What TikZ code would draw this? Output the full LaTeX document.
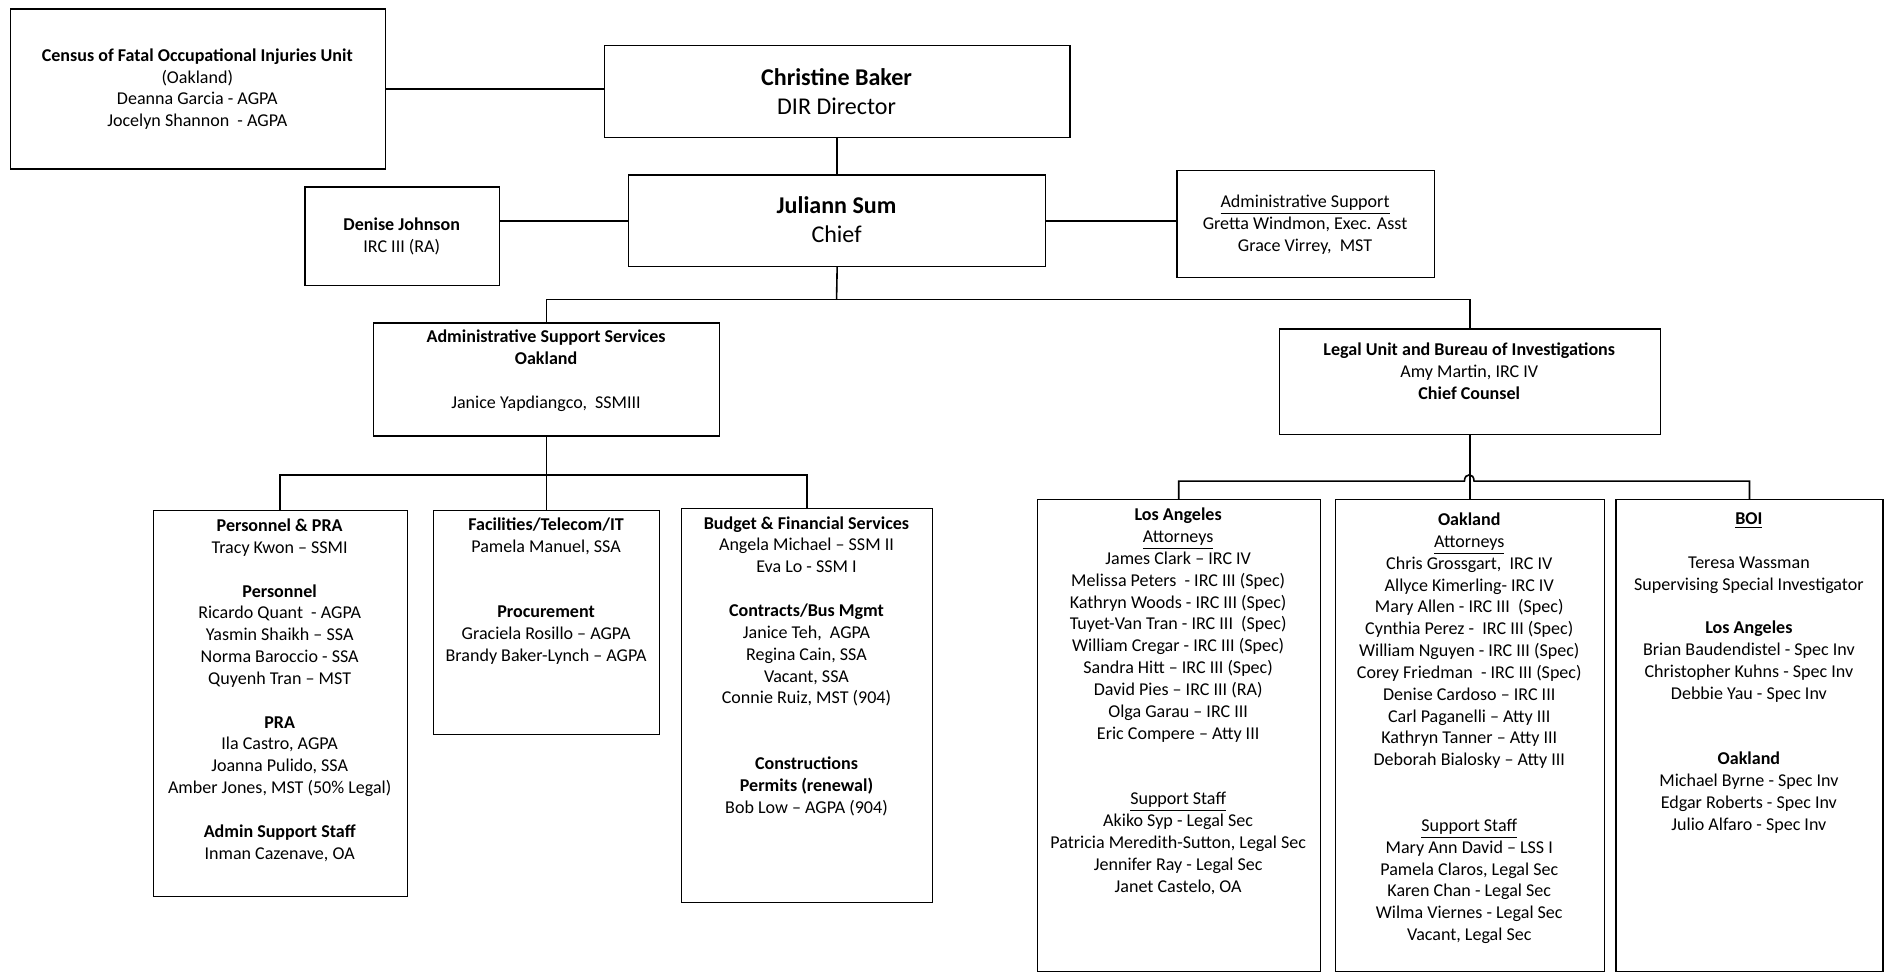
\documentclass[tikz,border=0pt]{standalone}
\usepackage{fontspec}
\setmainfont{Carlito}
\begin{document}
\begin{tikzpicture}[x=0.6pt,y=-0.6pt,
  box/.style={draw,line width=0.6pt,inner sep=0pt,anchor=north west},
  txt/.style={anchor=north,align=center,inner sep=0pt,font=\fontsize{9}{10.9}\selectfont},
  big/.style={anchor=north,align=center,inner sep=0pt,font=\fontsize{12}{14.4}\selectfont},
  conn/.style={line width=0.8pt}]

\useasboundingbox (0,0) rectangle (1568,809);

\node[box,minimum width=312*0.6pt,minimum height=133*0.6pt] (census) at (8,7) {};
\node[box,minimum width=387*0.6pt,minimum height=77*0.6pt] (christine) at (502,37) {};
\node[box,minimum width=347*0.6pt,minimum height=76*0.6pt] (juliann) at (522,145) {};
\node[box,minimum width=162*0.6pt,minimum height=82*0.6pt] (denise) at (253,155) {};
\node[box,minimum width=214*0.6pt,minimum height=89*0.6pt] (admsup) at (978,141) {};
\node[box,minimum width=288*0.6pt,minimum height=94*0.6pt] (ass) at (310,268) {};
\node[box,minimum width=317*0.6pt,minimum height=88*0.6pt] (legal) at (1063,273) {};
\node[box,minimum width=211*0.6pt,minimum height=321*0.6pt] (pers) at (127,424) {};
\node[box,minimum width=188*0.6pt,minimum height=186*0.6pt] (fac) at (360,424) {};
\node[box,minimum width=209*0.6pt,minimum height=328*0.6pt] (budget) at (566,422) {};
\node[box,minimum width=235*0.6pt,minimum height=392*0.6pt] (la) at (862,415) {};
\node[box,minimum width=224*0.6pt,minimum height=392*0.6pt] (oak) at (1109.5,415) {};
\node[box,minimum width=222*0.6pt,minimum height=392*0.6pt] (boi) at (1343,415) {};

\node[txt] (censusT) at (164,40) {\textbf{Census of Fatal Occupational Injuries Unit}\\(Oakland)\\Deanna Garcia - AGPA\\Jocelyn Shannon\ \ - AGPA};
\node[big] (christineT) at (695.5,56.5) {\textbf{Christine Baker}\\DIR Director};
\node[big] (juliannT) at (695.5,163.5) {\textbf{Juliann Sum}\\Chief};
\node[txt] (deniseT) at (334,181) {\textbf{Denise Johnson}\\IRC III (RA)};
\node[txt] (admsupT) at (1085,162) {\underline{Administrative Support}\\Gretta Windmon, Exec. Asst\\Grace Virrey,\ \ MST};
\node[txt] (assT) at (454,274) {\textbf{Administrative Support Services}\\\textbf{Oakland}\\[10.9pt]Janice Yapdiangco,\ \ SSMIII};
\node[txt] (legalT) at (1221.5,285) {\textbf{Legal Unit and Bureau of Investigations}\\Amy Martin, IRC IV\\\textbf{Chief Counsel}};

\node[txt] (persT) at (232.5,431) {\textbf{Personnel \& PRA}\\Tracy Kwon – SSMI\\[10.9pt]
  \textbf{Personnel}\\Ricardo Quant\ \ - AGPA\\Yasmin Shaikh – SSA\\Norma Baroccio - SSA\\Quyenh Tran – MST\\[10.9pt]
  \textbf{PRA}\\Ila Castro, AGPA\\Joanna Pulido, SSA\\Amber Jones, MST (50\% Legal)\\[10.9pt]
  \textbf{Admin Support Staff}\\Inman Cazenave, OA};
\node[txt] (facT) at (454,430) {\textbf{Facilities/Telecom/IT}\\Pamela Manuel, SSA\\[21.8pt]
  \textbf{Procurement}\\Graciela Rosillo – AGPA\\Brandy Baker-Lynch – AGPA};
\node[txt] (budgetT) at (670.5,429) {\textbf{Budget \& Financial Services}\\Angela Michael – SSM II\\Eva Lo - SSM I\\[10.9pt]
  \textbf{Contracts/Bus Mgmt}\\Janice Teh,\ \ AGPA\\Regina Cain, SSA\\Vacant, SSA\\Connie Ruiz, MST (904)\\[21.8pt]
  \textbf{Constructions}\\\textbf{Permits (renewal)}\\Bob Low – AGPA (904)};
\node[txt] (laT) at (979.5,422) {\textbf{Los Angeles}\\\underline{Attorneys}\\James Clark – IRC IV\\Melissa Peters\ \ - IRC III (Spec)\\
  Kathryn Woods - IRC III (Spec)\\Tuyet-Van Tran - IRC III\ \ (Spec)\\William Cregar - IRC III (Spec)\\Sandra Hitt – IRC III (Spec)\\
  David Pies – IRC III (RA)\\Olga Garau – IRC III\\Eric Compere – Atty III\\[21.8pt]
  \underline{Support Staff}\\Akiko Syp - Legal Sec\\Patricia Meredith-Sutton, Legal Sec\\Jennifer Ray - Legal Sec\\Janet Castelo, OA};
\node[txt] (oakT) at (1221.5,426) {\textbf{Oakland}\\\underline{Attorneys}\\Chris Grossgart,\ \ IRC IV\\Allyce Kimerling- IRC IV\\
  Mary Allen - IRC III\ \ (Spec)\\Cynthia Perez -\ \ IRC III (Spec)\\William Nguyen - IRC III (Spec)\\Corey Friedman\ \ - IRC III (Spec)\\
  Denise Cardoso – IRC III\\Carl Paganelli – Atty III\\Kathryn Tanner – Atty III\\Deborah Bialosky – Atty III\\[21.8pt]
  \underline{Support Staff}\\Mary Ann David – LSS I\\Pamela Claros, Legal Sec\\Karen Chan - Legal Sec\\Wilma Viernes - Legal Sec\\Vacant, Legal Sec};
\node[txt] (boiT) at (1454,426) {\textbf{\underline{BOI}}\\[10.9pt]Teresa Wassman\\Supervising Special Investigator\\[10.9pt]
  \textbf{Los Angeles}\\Brian Baudendistel - Spec Inv\\Christopher Kuhns - Spec Inv\\Debbie Yau - Spec Inv\\[21.8pt]
  \textbf{Oakland}\\Michael Byrne - Spec Inv\\Edgar Roberts - Spec Inv\\Julio Alfaro - Spec Inv};

\draw[conn] (census.east) -- (census.east -| christine.west);
\draw[conn] (christine.south) -- (juliann.north);
\draw[conn] (juliann.west) -- (juliann.west -| denise.east);
\draw[conn] (juliann.east) -- (juliann.east -| admsup.west);

\coordinate (busA) at (695.5,249);
\draw[conn] (juliann.south) -- (busA);
\draw[conn] (ass.north) |- (busA) -| (legal.north);

\coordinate (busB) at (454,395);
\draw[conn] (ass.south) -- (fac.north);
\draw[conn] (pers.north) |- (busB) -| (budget.north);

\coordinate (hopL) at (1217.5,400);
\coordinate (hopR) at (1225.5,400);
\draw[conn] (legal.south) -- (oak.north);
\draw[conn] (la.north) |- (hopL) .. controls (1217.5,393) and (1225.5,393) .. (hopR) -| (boi.north);
\end{tikzpicture}
\end{document}
